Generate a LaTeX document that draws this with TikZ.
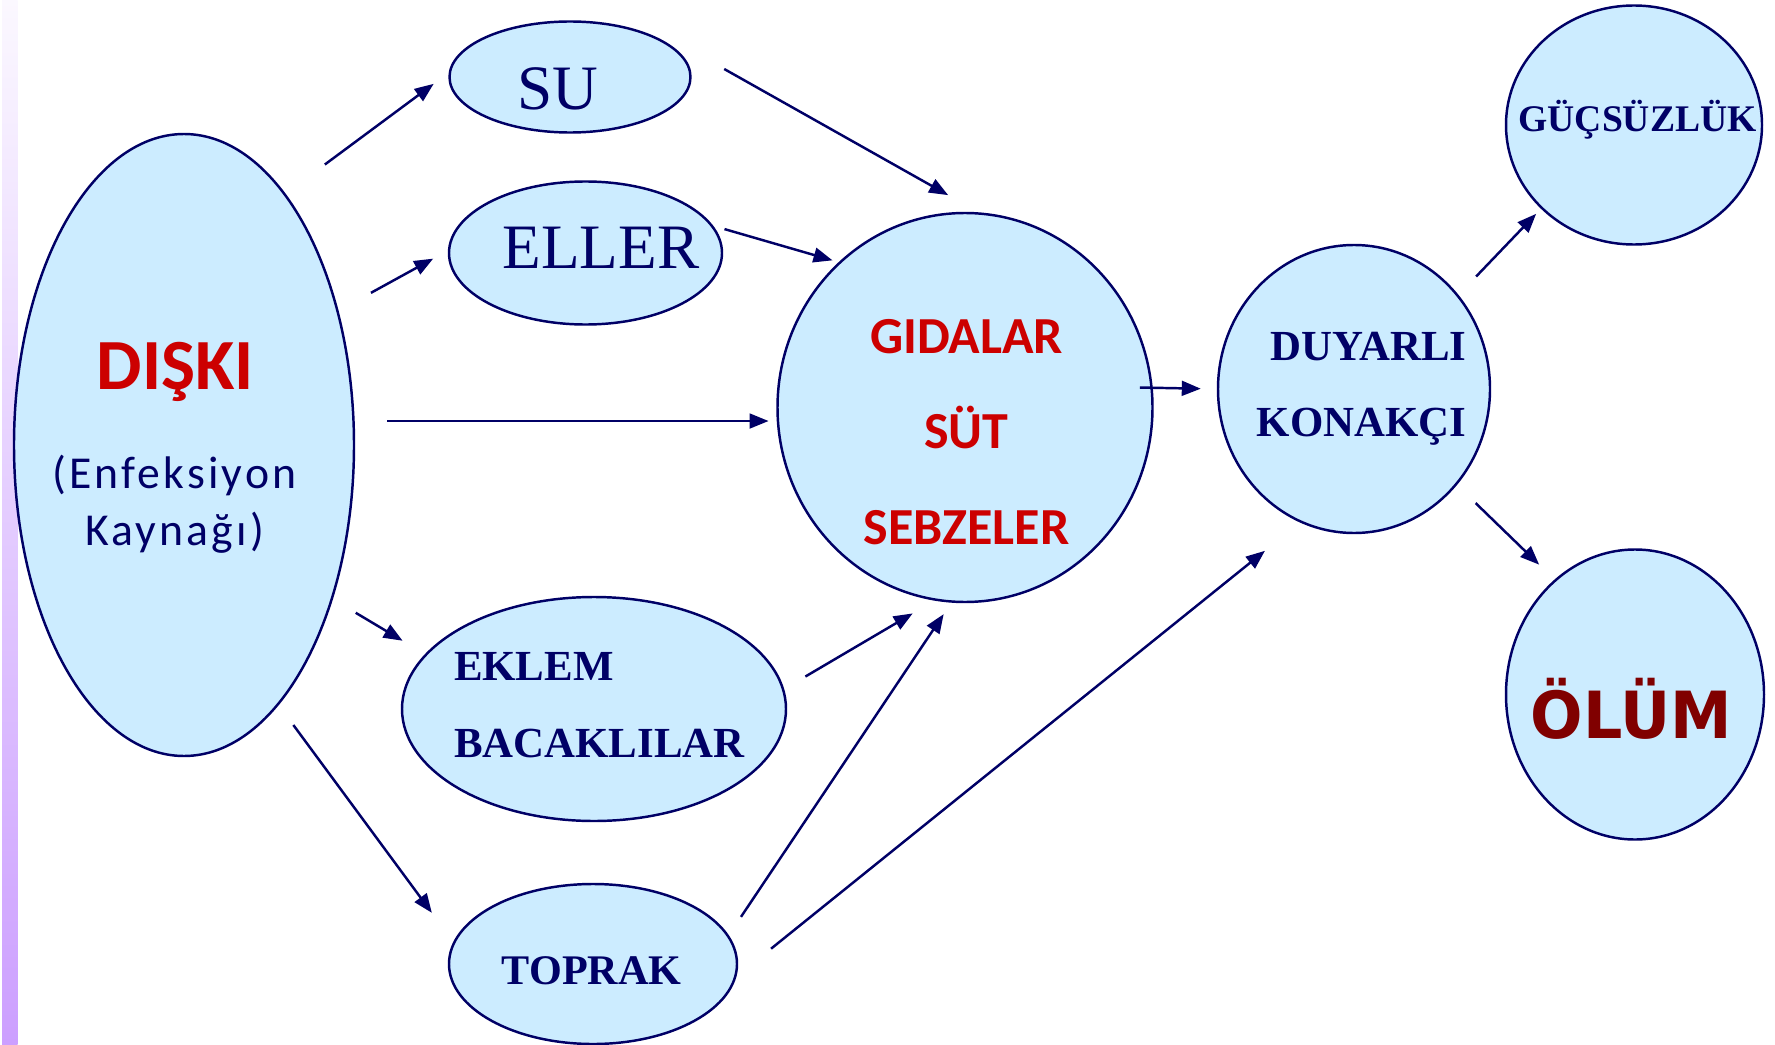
\documentclass[tikz,border=0pt]{standalone}
\usepackage{fontspec}
\setmainfont{Liberation Serif}
\newfontfamily\clbfnt{Carlito}
\newfontfamily\clbspc[LetterSpace=7]{Carlito}
\newfontfamily\vrdfnt[FakeStretch=0.95]{DejaVu Sans}
\usepackage{tikz}
\usetikzlibrary{arrows.meta}
\usetikzlibrary{calc}
\usetikzlibrary{shapes.geometric}
\definecolor{blobfill}{HTML}{CCECFF}
\definecolor{dkblue}{HTML}{000066}
\definecolor{txtred}{HTML}{CC0000}
\definecolor{txtmaroon}{HTML}{800000}
\definecolor{striptop}{HTML}{FBF8FF}
\definecolor{stripbot}{HTML}{CC9FFF}
\newcommand{\pgw}{17.75}
\newcommand{\pgh}{10.44}
\newcommand{\lnw}{0.7pt}

\begin{document}
\begin{tikzpicture}[
    blob/.style={ellipse, draw=dkblue, fill=blobfill, line width=\lnw, inner sep=0pt},
    lbl/.style={anchor=base, inner sep=0pt, text=dkblue},
    srfb/.style={lbl, font=\bfseries\fontsize{12.2pt}{21.8pt}\selectfont},
    arr/.style={-{Triangle[length=5.4pt,width=4.2pt]}, draw=dkblue, line width=\lnw}]

    \useasboundingbox (0,0) rectangle (\pgw,\pgh);
    \fill [white] (0,0) rectangle (\pgw,\pgh);
    \shade [top color=striptop, bottom color=stripbot] (0.02,0) rectangle (0.175,\pgh);

    \node [blob, minimum width=3.40cm, minimum height=6.22cm] (diski) at (1.84,5.99) {};
    \node [blob, minimum width=2.41cm, minimum height=1.11cm] (su) at (5.70,9.67) {};
    \node [blob, minimum width=2.73cm, minimum height=1.43cm] (eller) at (5.855,7.91) {};
    \node [blob, minimum width=3.75cm, minimum height=3.89cm] (gida) at (9.65,6.365) {};
    \node [blob, minimum width=2.72cm, minimum height=2.88cm] (konak) at (13.54,6.55) {};
    \node [blob, minimum width=2.56cm, minimum height=2.39cm] (guc) at (16.34,9.19) {};
    \node [blob, minimum width=2.58cm, minimum height=2.90cm] (olum) at (16.35,3.495) {};
    \node [blob, minimum width=3.84cm, minimum height=2.24cm] (eklem) at (5.94,3.35) {};
    \node [blob, minimum width=2.88cm, minimum height=1.60cm] (toprak) at (5.93,0.80) {};

    \node [lbl, text=txtred, font=\clbfnt\bfseries\fontsize{20.5pt}{24pt}\selectfont]
      (diskitxt) at ($(diski)+(-0.085,0.56)$) {DIŞKI};
    \node [lbl, align=center, font=\clbspc\fontsize{13pt}{16.2pt}\selectfont]
      (kaynaktxt) at ($(diski)+(-0.095,-1.00)$) {(Enfeksiyon\\Kaynağı)};
    \node [lbl, font=\fontsize{18pt}{21pt}\selectfont] (sutxt) at ($(su)+(-0.12,-0.323)$) {SU};
    \node [lbl, font=\fontsize{18pt}{21pt}\selectfont] (ellertxt) at ($(eller)+(0.153,-0.153)$) {ELLER};
    \node [lbl, text=txtred, align=center, font=\clbfnt\bfseries\fontsize{14.8pt}{27.2pt}\selectfont]
      (gidatxt) at ($(gida)+(0.015,-1.368)$) {GIDALAR\\SÜT\\SEBZELER};
    \node [srfb, anchor=base east, align=right] (konaktxt) at ($(konak)+(1.13,-0.477)$) {DUYARLI\\KONAKÇI};
    \node [srfb, font=\bfseries\fontsize{10.7pt}{12pt}\selectfont] (guctxt) at ($(guc)+(0.036,-0.064)$) {GÜÇSÜZLÜK};
    \node [lbl, text=txtmaroon, font=\vrdfnt\bfseries\fontsize{18.5pt}{22pt}\selectfont]
      (olumtxt) at ($(olum)+(-0.036,-0.441)$) {ÖLÜM};
    \node [srfb, anchor=base west, align=left] (eklemtxt) at ($(eklem)+(-1.407,-0.483)$) {EKLEM\\BACAKLILAR};
    \node [srfb, font=\bfseries\fontsize{12pt}{14pt}\selectfont] (topraktxt) at ($(toprak)+(-0.013,-0.20)$) {TOPRAK};

    \draw [arr, shorten <=0.489cm, shorten >=0.186cm] (diski.68.6) -- (su.178.7);
    \draw [arr, shorten <=0.37cm, shorten >=0.167cm] (diski.41.9) -- (eller.179.7);
    \draw [arr, shorten <=0.325cm, shorten >=0.077cm] (diski.8.39) -- (diski.8.39 -| gida.west);
    \draw [arr, shorten <=0.266cm, shorten >=0.261cm] (diski.-46.4) -- (eklem.162.9);
    \draw [arr, shorten <=0.247cm, shorten >=0.361cm] (diski.-70.5) -- (toprak.171.8);
    \draw [arr, shorten >=0.35cm] ([shift={(0.325,0.08)}]su.east) -- (gida.86.9);
    \draw [arr, shorten <=0.117cm, shorten >=0.064cm] (eller.12.2) -- (gida.131.1);
    \draw [arr, shorten <=-0.13cm, shorten >=0.16cm] (gida.6.14) -- (konak.180);
    \draw [arr, shorten <=0.246cm, shorten >=0.252cm] (eklem.6.29) -- (gida.261.1);
    \draw [arr, shorten <=0.22cm, shorten >=0.138cm] (toprak.12.6) -- (gida.266.4);
    \draw [arr, shorten <=0.444cm, shorten >=0.451cm] (toprak.355.2) -- (konak.248.3);
    \draw [arr, shorten <=0.254cm, shorten >=0.07cm] (konak.42.4) -- (guc.222.1);
    \draw [arr, shorten <=0.26cm, shorten >=0.214cm] (konak.317.2) -- (olum.125.0);

  \end{tikzpicture}
\end{document}
